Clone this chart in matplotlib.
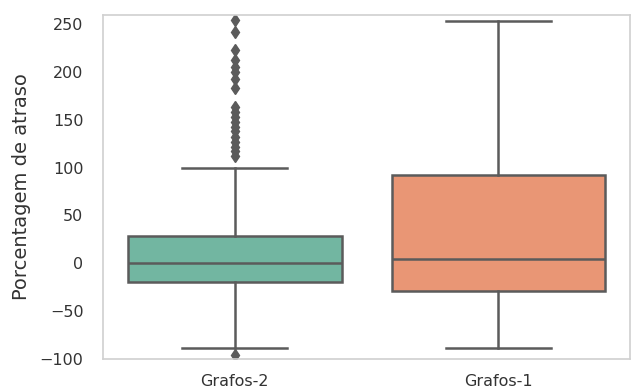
import numpy as np
import matplotlib.pyplot as plt
import seaborn as sns

# resumo dos atrasos por turma
turmas = ['Grafos-2', 'Grafos-1']
medianas = [0, 4]
q1 = [-20, -29]
q3 = [28, 92]
whisk_baixo = [-89, -89]
whisk_alto = [100, 254]
outliers_g2 = [255, 242, 223, 213, 205, 200, 193, 183, 164, 158, 153, 148,
               143, 138, 132, 127, 122, 117, 112, -96]
outliers_g1 = []

pal = [sns.desaturate(c, 0.75) for c in sns.color_palette('Set2', 2)]
cor_linha = '#5b5b5b'

stats = []
for i, nome in enumerate(turmas):
    stats.append({
        'label': nome,
        'med': medianas[i],
        'q1': q1[i],
        'q3': q3[i],
        'whislo': whisk_baixo[i],
        'whishi': whisk_alto[i],
        'fliers': [outliers_g2, outliers_g1][i],
    })

fig, ax = plt.subplots(figsize=(6.31, 3.9), dpi=100)
fig.subplots_adjust(left=0.163, right=0.999, top=0.962, bottom=0.08)

lp = dict(color=cor_linha, linewidth=1.8)
bp = ax.bxp(stats, positions=[0, 1], widths=0.81, patch_artist=True,
            boxprops=dict(edgecolor=cor_linha, linewidth=1.8),
            medianprops=lp, whiskerprops=lp, capprops=lp,
            flierprops=dict(marker='d', markerfacecolor=cor_linha,
                            markeredgecolor=cor_linha, markersize=6))
for caixa, cor in zip(bp['boxes'], pal):
    caixa.set_facecolor(cor)
for cap in bp['caps']:
    x0, x1 = cap.get_xdata()
    c = (x0 + x1) / 2
    cap.set_xdata([c - 0.2, c + 0.2])

ax.set_xlim(-0.5, 1.5)
ax.set_ylim(-100, 260)
ax.set_yticks(np.arange(-100, 251, 50))
ax.set_xticks([0, 1])
ax.set_xticklabels(turmas)
ax.tick_params(length=0, labelsize=11.5, labelcolor='#333333')
ax.tick_params(axis='y', pad=14)
ax.tick_params(axis='x', pad=11)
ax.set_ylabel('Porcentagem de atraso', fontsize=14, color='#333333', labelpad=6)
for s in ax.spines.values():
    s.set_color('#d0d0d0')
    s.set_linewidth(1.2)

plt.savefig('out.png')
